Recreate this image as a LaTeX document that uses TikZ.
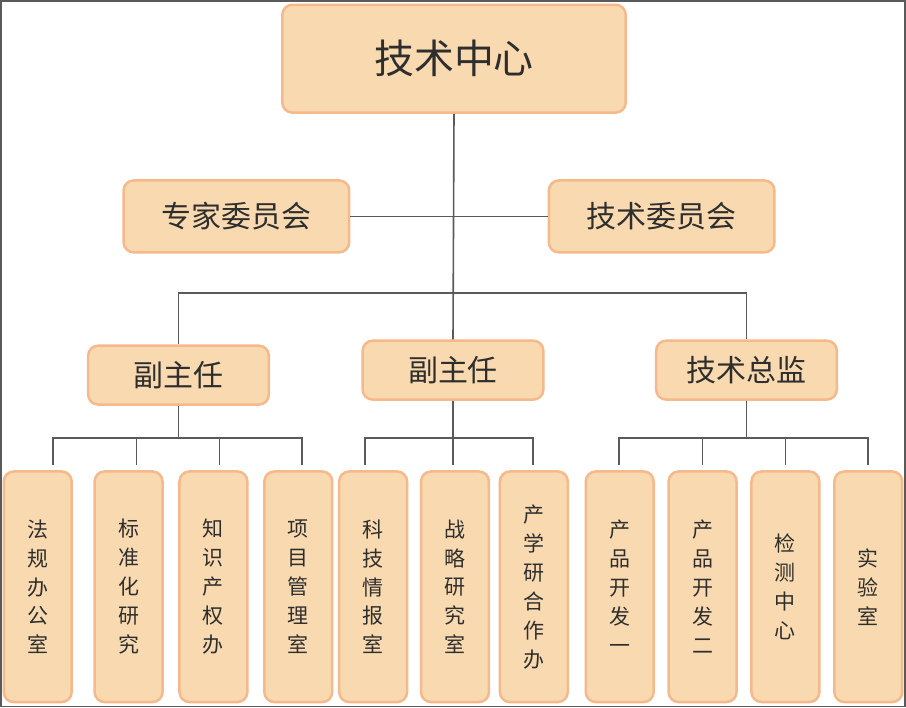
\documentclass[tikz,border=0pt]{standalone}
\usepackage{fontspec}
\setmainfont{Noto Sans CJK SC}
\usetikzlibrary{positioning}
\definecolor{boxfill}{HTML}{F9DAB0}
\definecolor{boxline}{HTML}{F5B98C}
\definecolor{wire}{HTML}{5A5A5A}
\definecolor{ink}{HTML}{2E2E2E}
\begin{document}
\begin{tikzpicture}[x=1pt,y=-1pt,
            box/.style={draw=boxline,fill=boxfill,line width=2.5pt,rounded corners=10pt,text=ink,inner sep=0pt},
            head/.style={box,minimum width=344pt,minimum height=108pt,font=\fontsize{40}{40}\selectfont},
            mid/.style={box,minimum width=226pt,minimum height=72pt,font=\fontsize{30}{30}\selectfont},
            sub/.style={box,minimum width=181pt,minimum height=59pt,font=\fontsize{30}{30}\selectfont},
            unit/.style={box,minimum width=68pt,minimum height=231pt,align=center,font=\fontsize{21}{29}\selectfont},
            every path/.style={draw=wire,line width=1.6pt}
          ]
          \useasboundingbox (0,0) rectangle (906,707);
          \node[head] (centre) at (454,58) {技术中心};
          \node[mid] (experts) at (236,216) {专家委员会};
          \node[mid] (techcom) at (662,216) {技术委员会};

          %second level
          \node[sub] (vice1) at (178,375) {副主任};
          \node[sub] (vice2) at (453,370) {副主任};
          \node[sub] (cto) at (747,370) {技术总监};

          %units
          \node[unit] (u1) at (37,587) {法\\规\\办\\公\\室};
          \node[unit] (u2) at (128,587) {标\\准\\化\\研\\究};
          \node[unit] (u3) at (213,587) {知\\识\\产\\权\\办};
          \node[unit] (u4) at (298,587) {项\\目\\管\\理\\室};
          \node[unit] (u5) at (373,587) {科\\技\\情\\报\\室};
          \node[unit] (u6) at (455,587) {战\\略\\研\\究\\室};
          \node[unit] (u7) at (534,587) {产\\学\\研\\合\\作\\办};
          \node[unit] (u8) at (620,587) {产\\品\\开\\发\\一};
          \node[unit] (u9) at (703,587) {产\\品\\开\\发\\二};
          \node[unit] (u10) at (786,587) {检\\测\\中\\心};
          \node[unit] (u11) at (869,587) {实\\验\\室};

          %wiring
          \coordinate (bus) at (454,293);
          \draw (centre.south) -- (vice2.north);
          \draw (experts.east) -- (techcom.west);
          \draw (vice1.north) -- (178,293) -- (747,293) -- (cto.north);

          \draw (vice1.south) -- (178,438);
          \draw (52,465) -- (52,438) -- (302,438) -- (302,465);
          \draw (136,438) -- (136,465) (219,438) -- (219,465);

          \draw (vice2.south) -- (453,465);
          \draw (365,465) -- (365,438) -- (533,438) -- (533,465);

          \draw (cto.south) -- (747,438);
          \draw (619,465) -- (619,438) -- (869,438) -- (869,465);
          \draw (703,438) -- (703,465) (786,438) -- (786,465);
      \end{tikzpicture}
\end{document}
